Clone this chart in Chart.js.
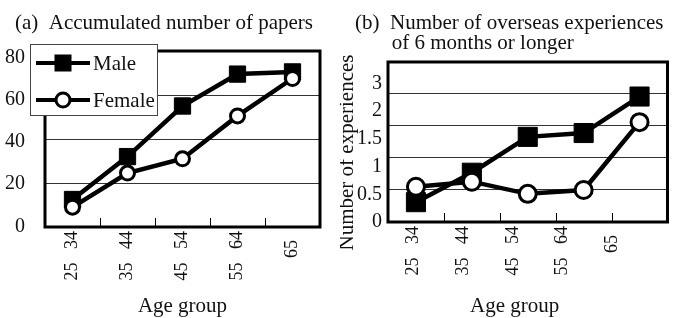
<!DOCTYPE html>
<html><head><meta charset="utf-8">
<script src="https://cdn.jsdelivr.net/npm/chart.js@4/dist/chart.umd.min.js"></script>
<style>
html,body{margin:0;padding:0;background:#fff;}
#wrap{position:relative;width:682px;height:318px;overflow:hidden;background:#fff;}
.panel{position:absolute;top:0;height:318px;}
#pa{left:0;width:340px;}
#pb{left:340px;width:342px;}
canvas{display:block;}
</style></head><body>
<div id="wrap">
<div class="panel" id="pa"><canvas id="ca" width="340" height="318"></canvas></div>
<div class="panel" id="pb"><canvas id="cb" width="342" height="318"></canvas></div>
</div>
<script>
// ---- data ----
const ageGroups = ["25 34", "35 44", "45 54", "55 64", "65"];
const seriesNames = ["Male", "Female"];
const papersMale = [12.5, 32, 55, 69.5, 70.5];
const papersFemale = [9, 24.5, 31, 50.5, 67.5];
const papersTickLabels = ["0", "20", "40", "60", "80"];
const overseasMale = [0.31, 0.77, 1.33, 1.39, 1.96];
const overseasFemale = [0.55, 0.63, 0.44, 0.5, 1.56];
const overseasTickLabels = ["0", "0.5", "1", "1.5", "2", "3"];
const titleA = "(a)  Accumulated number of papers";
const titleB = ["(b)  Number of overseas experiences", "of 6 months or longer"];
const yTitleB = "Number of experiences";
const xTitle = "Age group";

// ---- style ----
const SERIF = "'Liberation Serif','Times New Roman','DejaVu Serif',serif";
const NB = '\u00a0';
Chart.defaults.font.family = SERIF;
Chart.defaults.color = '#111';

function fmtAge(label) {
  const parts = label.split(' ');
  return parts.length > 1 ? parts.join(NB + NB + NB) : label + NB + NB;
}

const framePlugin = {
  id: 'frame',
  beforeDatasetsDraw(chart) {
    const {ctx, chartArea: a} = chart;
    const x = chart.scales.x;
    ctx.save();
    ctx.strokeStyle = '#000';
    ctx.lineWidth = 1;
    for (let i = 1; i < chart.data.labels.length; i++) {
      const px = Math.round(x.getPixelForValue(i - 0.5)) + 0.5;
      ctx.beginPath();
      ctx.moveTo(px, a.bottom);
      ctx.lineTo(px, a.bottom - 9);
      ctx.stroke();
    }
    ctx.lineWidth = 3;
    ctx.strokeRect(a.left, a.top, a.right - a.left, a.bottom - a.top);
    ctx.restore();
  }
};

const legendPlugin = {
  id: 'boxLegend',
  afterDraw(chart, args, o) {
    if (!o || !o.show) return;
    const {ctx, chartArea: a} = chart;
    const x0 = a.left + o.dx, y0 = a.top + o.dy;
    ctx.save();
    ctx.fillStyle = '#fff';
    ctx.fillRect(x0, y0, o.width, o.height);
    ctx.strokeStyle = '#444';
    ctx.lineWidth = 1;
    ctx.strokeRect(x0 + 0.5, y0 + 0.5, o.width, o.height);
    chart.data.datasets.forEach((ds, i) => {
      const y = y0 + o.rows[i];
      ctx.strokeStyle = '#000';
      ctx.lineWidth = 4;
      ctx.beginPath();
      ctx.moveTo(x0 + o.lineFrom, y);
      ctx.lineTo(x0 + o.lineTo, y);
      ctx.stroke();
      const mx = x0 + o.markerX;
      if (ds.pointStyle === 'rect') {
        ctx.fillStyle = '#000';
        ctx.fillRect(mx - 8.5, y - 8.5, 17, 17);
      } else {
        ctx.fillStyle = '#fff';
        ctx.lineWidth = 3;
        ctx.beginPath();
        ctx.arc(mx, y, 7, 0, Math.PI * 2);
        ctx.fill();
        ctx.stroke();
      }
      ctx.fillStyle = '#111';
      ctx.font = '21px ' + SERIF;
      ctx.textBaseline = 'middle';
      ctx.textAlign = 'left';
      ctx.fillText(ds.label, x0 + o.textX, y + 1.5);
    });
    ctx.restore();
  }
};

function makeDatasets(male, female, sq, cr) {
  return [
    {label: seriesNames[0], data: male, order: 1, xAxisID: 'x', yAxisID: 'y',
     borderColor: '#000', borderWidth: 4.5, pointStyle: 'rect', pointRadius: sq,
     pointBackgroundColor: '#000', pointBorderColor: '#000', pointBorderWidth: 1, tension: 0},
    {label: seriesNames[1], data: female, order: 0, xAxisID: 'x', yAxisID: 'y',
     borderColor: '#000', borderWidth: 4.5, pointStyle: 'circle', pointRadius: cr,
     pointBackgroundColor: '#fff', pointBorderColor: '#000', pointBorderWidth: 3, tension: 0}
  ];
}

function labelXAxis(maxVal, height, titleText) {
  return {
    type: 'linear', position: 'bottom', min: 0, max: maxVal,
    afterBuildTicks: s => { s.ticks = ageGroups.map((_, i) => ({value: i + 0.5})); },
    afterFit: s => { s.height = height; },
    grid: {display: false, drawTicks: false}, border: {display: false},
    ticks: {autoSkip: false, minRotation: 90, maxRotation: 90, padding: 4,
            font: {size: 18}, color: '#111', callback: (v, i) => fmtAge(ageGroups[i])},
    title: {display: true, text: titleText, color: '#111',
            font: {size: 21, lineHeight: 1.2}, padding: {top: 0, bottom: -1.5}}
  };
}

// ---- chart (a) ----
new Chart(document.getElementById('ca'), {
  type: 'line',
  data: {labels: ageGroups, datasets: makeDatasets(papersMale, papersFemale, 11.5, 7)},
  options: {
    responsive: false, animation: false, events: [], devicePixelRatio: 1,
    layout: {padding: {left: 4.5, right: 20, top: 0, bottom: 0}},
    plugins: {
      legend: {display: false}, tooltip: {enabled: false},
      title: {display: true, text: NB + NB + titleA, align: 'start', color: '#111',
              font: {size: 21, weight: 'normal', lineHeight: 1.2}, padding: {top: 11, bottom: 14.8}},
      boxLegend: {show: true, dx: -15, dy: -7, width: 127, height: 71, rows: [19, 56],
                  lineFrom: 6, lineTo: 60, markerX: 33, textX: 63}
    },
    scales: {
      x: {type: 'category', offset: true, display: false},
      xl: labelXAxis(5, 91, xTitle),
      y: {type: 'linear', position: 'left', min: 0, max: 80,
          ticks: {display: false, stepSize: 20},
          grid: {color: '#333', lineWidth: 1, drawTicks: false}, border: {display: false}},
      yl: {type: 'linear', position: 'left', weight: 1, min: -0.0166, max: 4.149,
           afterBuildTicks: s => { s.ticks = papersTickLabels.map((_, i) => ({value: i})); },
           afterFit: s => { s.width = 40.5; },
           grid: {display: false, drawTicks: false}, border: {display: false},
           ticks: {padding: 20, font: {size: 20}, color: '#111', callback: (v, i) => papersTickLabels[i]}}
    }
  },
  plugins: [framePlugin, legendPlugin]
});

// ---- chart (b) ----
new Chart(document.getElementById('cb'), {
  type: 'line',
  data: {labels: ageGroups, datasets: makeDatasets(overseasMale, overseasFemale, 13.5, 8.5)},
  options: {
    responsive: false, animation: false, events: [], devicePixelRatio: 1,
    layout: {padding: {left: 15, right: 14, top: 0, bottom: 0}},
    plugins: {
      legend: {display: false}, tooltip: {enabled: false},
      title: {display: true, text: [titleB[0], NB.repeat(7) + titleB[1]], align: 'start', color: '#111',
              font: {size: 21, weight: 'normal', lineHeight: 0.952}, padding: {top: 13.6, bottom: 8.4}},
      boxLegend: {show: false}
    },
    scales: {
      x: {type: 'category', offset: true, display: false},
      xl: labelXAxis(5.6, 96, xTitle + NB.repeat(5)),
      y: {type: 'linear', position: 'left', min: 0, max: 2.5,
          ticks: {display: false, stepSize: 0.5},
          grid: {color: '#333', lineWidth: 1, drawTicks: false}, border: {display: false}},
      yl: {type: 'linear', position: 'left', weight: 1, min: 0, max: 5.776,
           afterBuildTicks: s => { s.ticks = overseasTickLabels.map((_, i) => ({value: i})); },
           afterFit: s => { s.width = 33; },
           grid: {display: false, drawTicks: false}, border: {display: false},
           ticks: {padding: 6, font: {size: 20}, color: '#111', callback: (v, i) => overseasTickLabels[i]},
           title: {display: true, text: yTitleB + NB.repeat(4), color: '#111',
                   font: {size: 21, lineHeight: 1.2}, padding: {top: -20.6, bottom: 0}}}
    }
  },
  plugins: [framePlugin]
});
</script>
</body></html>
